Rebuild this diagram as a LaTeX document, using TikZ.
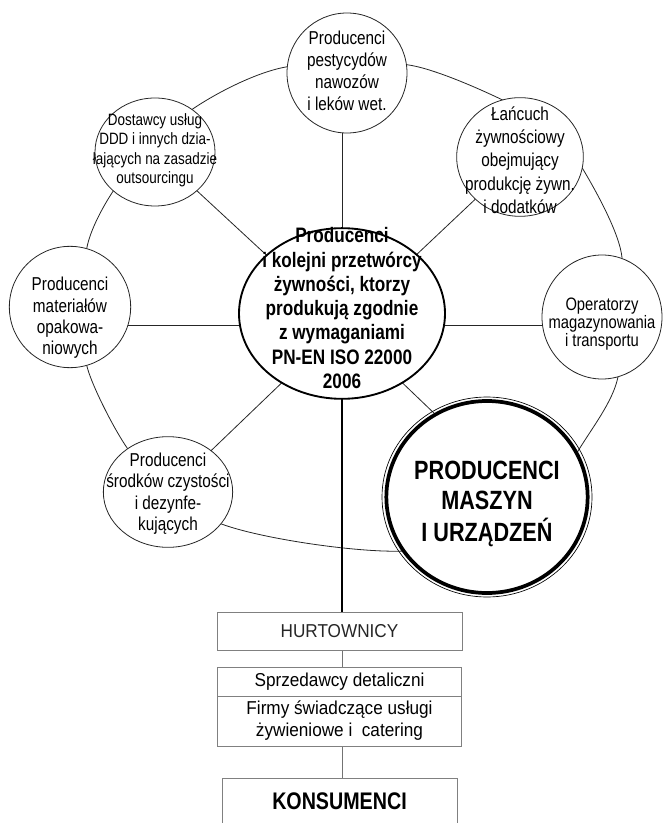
\documentclass[tikz,border=0pt]{standalone}
\usepackage{fontspec}
\setmainfont{Liberation Sans}[FakeStretch=0.82]
\newfontfamily\boxfont{Liberation Sans}[FakeStretch=0.92]
\usetikzlibrary{shapes.geometric}
\pgfdeclarelayer{background}
\pgfsetlayers{background,main}
\newcommand\fs[2]{\fontsize{#1}{#2}\selectfont}
\newcommand\ctext[2][0pt]{\smash{\raisebox{-#1}{\makebox[0pt]{\begin{tabular}{@{}c@{}}#2\end{tabular}}}}}
\begin{document}
\begin{tikzpicture}[x=0.75pt,y=-0.75pt,
  sat/.style={ellipse, draw=black!85, line width=0.6pt, fill=white, inner sep=0pt, outer sep=0pt},
  ringline/.style={draw=black!85, line width=0.6pt},
  spoke/.style={draw=black!85, line width=0.6pt},
  boxnode/.style={rectangle, draw=black!50, line width=0.6pt, fill=white, inner sep=0pt, outer sep=0pt, align=center, font=\boxfont\fs{14}{16.5}},
  boxline/.style={draw=black!55, line width=0.6pt},
]
\useasboundingbox (0,0) rectangle (662,823);

% satellite circles
\node[sat, minimum width=90pt, minimum height=90pt, font=\fs{14}{16.5}] (T) at (347,73)
  {\ctext[3.8pt]{Producenci\\pestycydów\\nawozów\\i leków wet.}};
\node[sat, minimum width=90pt, minimum height=81pt, font=\fs{12.3}{14.5}] (UL) at (155,152)
  {\ctext[1.9pt]{Dostawcy usług\\DDD i innych dzia-\\łających na zasadzie\\outsourcingu}};
\node[sat, minimum width=95pt, minimum height=89pt, font=\fs{14}{17.5}] (UR) at (520,157)
  {\ctext[7.5pt]{Łańcuch\\żywnościowy\\obejmujący\\produkcję żywn.\\i dodatków}};
\node[sat, minimum width=91pt, minimum height=91pt, font=\fs{14}{16}] (L) at (70,307)
  {\ctext[12.3pt]{Producenci\\materiałów\\opakowa-\\niowych}};
\node[sat, minimum width=90pt, minimum height=93pt, font=\fs{13.5}{13.2}] (R) at (602,317)
  {\ctext[9.4pt]{Operatorzy\\magazynowania\\i transportu}};
\node[sat, minimum width=97pt, minimum height=83pt, font=\fs{14}{16}] (LL) at (168,492)
  {\ctext[5.25pt]{Producenci\\środków czystości\\i dezynfe-\\kujących}};

% central circle
\node[ellipse, draw=black, line width=1.4pt, fill=white, inner sep=0pt, outer sep=0pt,
      minimum width=154.5pt, minimum height=128pt, font=\bfseries\fs{15.7}{18.2}] (C) at (342,313.5)
  {\ctext[1.5pt]{Producenci\\i kolejni przetwórcy\\żywności, ktorzy\\produkują zgodnie\\z wymaganiami\\PN-EN ISO 22000\\2006}};

% big circle
\node[ellipse, draw=black, line width=2.8pt, fill=white, inner sep=0pt, outer sep=0pt,
      minimum width=151pt, minimum height=144pt, font=\bfseries\fs{19.8}{22.5}] (big) at (487,497)
  {\ctext[10.8pt]{PRODUCENCI\\MASZYN\\I URZĄDZEŃ}};
\draw[line width=0.5pt] (big.center) ellipse [x radius=105, y radius=100];

% boxes
\node[boxnode, minimum width=183.75pt, minimum height=28.5pt, text=black!85] (box1) at (339.5,631) {HURTOWNICY};
\node[boxnode, minimum width=183pt, minimum height=21.75pt] (box2a) at (339.5,681.5) {Sprzedawcy detaliczni};
\node[boxnode, minimum width=183pt, minimum height=37.5pt] (box2b) at (339.5,721) {Firmy świadczące usługi\\żywieniowe i\ \ catering};
\node[boxnode, minimum width=176.25pt, minimum height=35.25pt, font=\bfseries\fs{18}{20}] (kons) at (339.5,801.5) {KONSUMENCI};

\coordinate (hub) at (342,325);

\begin{pgfonlayer}{background}
  % spokes
  \draw[spoke] (hub) -- (hub |- T.south);
  \draw[spoke] (hub) -- (UL);
  \draw[spoke] (hub) -- (UR);
  \draw[spoke] (hub) -- (hub -| L.center);
  \draw[spoke] (hub) -- (hub -| R.center);
  \draw[spoke] (hub) -- (LL);
  \draw[spoke] (hub) -- (big.122);
  % outer ring
  \draw[ringline] (T.174) .. controls +(-30,5) and +(25,-17) .. (UL.49);
  \draw[ringline] (UL.223) .. controls +(-10,15) and +(3,-18) .. (L.74);
  \draw[ringline] (L.286) .. controls +(4,18) and +(-14,-20) .. (LL.133);
  \draw[ringline] (LL.-31) .. controls +(40,15) and +(-45,2) .. (big.213);
  \draw[ringline] (big.26) .. controls +(15,-25) and +(-5,25) .. (R.-75);
  \draw[ringline] (R.71) .. controls +(-2,-25) and +(12,20) .. (UR.-10);
  \draw[ringline] (UR.107) .. controls +(-25,-12) and +(25,3) .. (T.8);
  % chain to consumers
  \draw[line width=1pt] (C.south) -- (C.south |- box1.north);
  \draw[boxline] (box1.south -| C.south) -- (box2a.north -| C.south);
  \draw[boxline] (box2b.south -| C.south) -- (kons.north -| C.south);
\end{pgfonlayer}
\end{tikzpicture}
\end{document}
